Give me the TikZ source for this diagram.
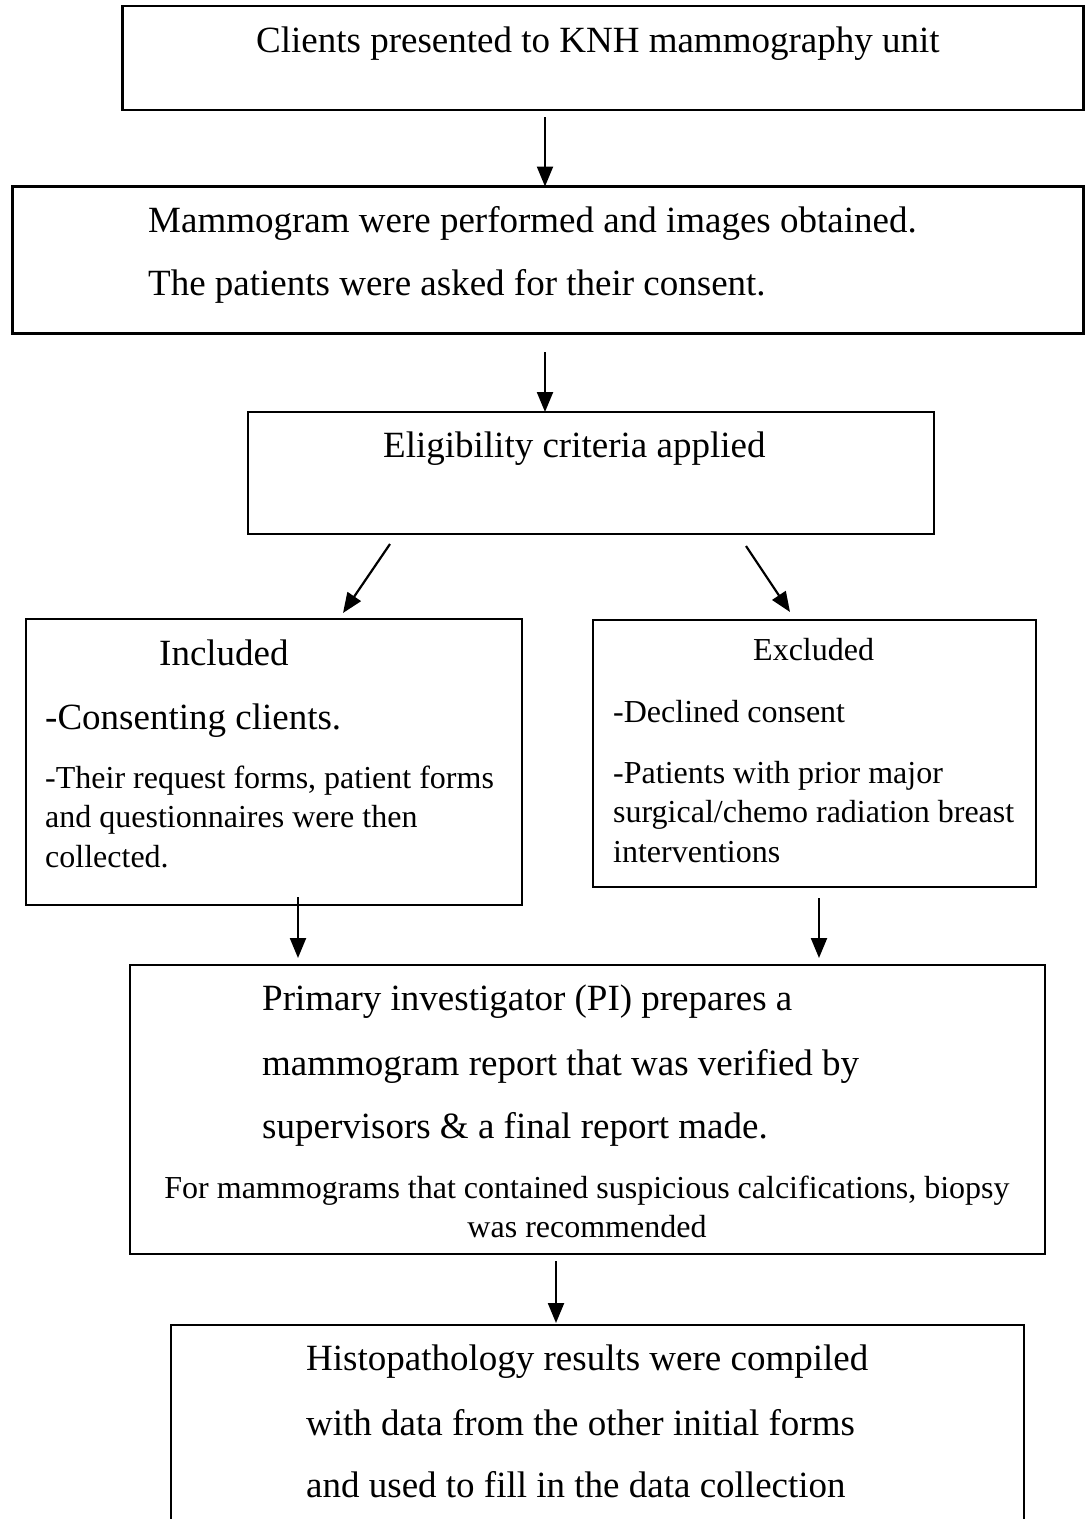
\documentclass[tikz,border=0pt]{standalone}
\usepackage{fontspec}
\setmainfont{Liberation Serif}
\usetikzlibrary{arrows.meta}
\begin{document}
\begin{tikzpicture}[x=1pt,y=-1pt,
  box/.style={draw, line width=2.2pt, inner sep=0pt, outer sep=0pt},
  big/.style={anchor=base west, inner sep=0pt, font=\fontsize{37}{44}\selectfont},
  small/.style={anchor=base west, inner sep=0pt, font=\fontsize{32}{38}\selectfont},
  smallc/.style={anchor=base, inner sep=0pt, font=\fontsize{32}{38}\selectfont},
  arr/.style={line width=2.2pt, -{Triangle[width=16pt,length=20pt]}}]
\clip (0,0) rectangle (1085,1519);
\fill[white] (0,0) rectangle (1085,1519);
% boxes
\node[box, minimum width=961, minimum height=104] (b1) at (603,58) {};
\node[box, minimum width=1071, minimum height=147] (b2) at (548,260) {};
\node[box, minimum width=686, minimum height=122] (b3) at (591,473) {};
\node[box, minimum width=496, minimum height=286] (inc) at (274,762) {};
\node[box, minimum width=443, minimum height=267] (exc) at (814.5,753.5) {};
\node[box, minimum width=915, minimum height=289] (b6) at (587.5,1109.5) {};
\node[box, minimum width=853, minimum height=215] (b7) at (597.5,1432.5) {};
% texts
\node[big] (t1) at (256,52) {Clients presented to KNH mammography unit};
\node[big] (t2a) at (148,232) {Mammogram were performed and images obtained.};
\node[big] (t2b) at (148,295) {The patients were asked for their consent.};
\node[big] (t3) at (383,457) {Eligibility criteria applied};
\node[big] (ti1) at (159,665) {Included};
\node[big] (ti2) at (45,729) {-Consenting clients.};
\node[small] (ti3) at (45,788) {-Their request forms, patient forms};
\node[small] (ti4) at (45,827) {and questionnaires were then};
\node[small] (ti5) at (45,867) {collected.};
\node[small] (te1) at (753,660) {Excluded};
\node[small] (te2) at (613,722) {-Declined consent};
\node[small] (te3) at (613,783) {-Patients with prior major};
\node[small] (te4) at (613,822) {surgical/chemo radiation breast};
\node[small] (te5) at (613,862) {interventions};
\node[big] (t6a) at (262,1010) {Primary investigator (PI) prepares a};
\node[big] (t6b) at (262,1075) {mammogram report that was verified by};
\node[big] (t6c) at (262,1138) {supervisors \& a final report made.};
\node[smallc] (t6d) at (587,1198) {For mammograms that contained suspicious calcifications, biopsy};
\node[smallc] (t6e) at (587,1237) {was recommended};
\node[big] (t7a) at (306,1370) {Histopathology results were compiled};
\node[big] (t7b) at (306,1435) {with data from the other initial forms};
\node[big] (t7c) at (306,1497) {and used to fill in the data collection};
% connector coordinates
\coordinate (a1s) at (545,117);
\coordinate (a2s) at (545,352);
\coordinate (d1s) at (390,544);
\coordinate (d1e) at (343,613);
\coordinate (d2s) at (746,546);
\coordinate (d2e) at (790,612);
\coordinate (a3s) at (298,897);
\coordinate (a3e) at (298,958);
\coordinate (a4s) at (819,898);
\coordinate (a4e) at (819,958);
\coordinate (a5s) at (556,1261);
\coordinate (a5e) at (556,1323);
% connectors
\draw[arr] (a1s) -- (a1s |- b2.north);
\draw[arr] (a2s) -- (a2s |- b3.north);
\draw[arr] (d1s) -- (d1e);
\draw[arr] (d2s) -- (d2e);
\draw[arr] (a3s) -- (a3e);
\draw[arr] (a4s) -- (a4e);
\draw[arr] (a5s) -- (a5e);
\end{tikzpicture}
\end{document}
